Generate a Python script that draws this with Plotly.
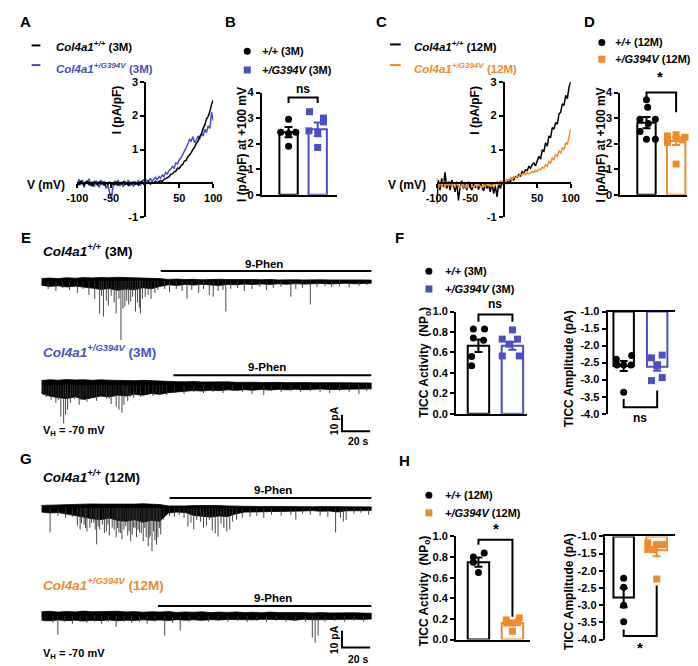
import plotly.graph_objects as go

W, H = 698, 666
FONT = "Liberation Sans"
BLUE = "#4A4FC4"
ORANGE = "#F08A2B"

# ---------------- A / C : I-V ramps ----------------
RAMP_MV = [-100, -97.5, -95, -92.5, -90, -87.5, -85, -82.5, -80, -77.5,
           -75, -72.5, -70, -67.5, -65, -62.5, -60, -57.5, -55, -52.5,
           -50, -47.5, -45, -42.5, -40, -37.5, -35, -32.5, -30, -27.5,
           -25, -22.5, -20, -17.5, -15, -12.5, -10, -7.5, -5, -2.5, 0,
           2.5, 5, 7.5, 10, 12.5, 15, 17.5, 20, 22.5, 25,
           27.5, 30, 32.5, 35, 37.5, 40, 42.5, 45, 47.5, 50,
           52.5, 55, 57.5, 60, 62.5, 65, 67.5, 70, 72.5, 75,
           77.5, 80, 82.5, 85, 87.5, 90, 92.5, 95, 97.5, 100]

IV_WT_3M = [0.05, -0.05, 0.08, 0.0, -0.06, 0.04, 0.07, -0.04, 0.02, -0.08,
            0.05, 0.0, -0.05, 0.06, -0.02, 0.03, -0.07, 0.02, -0.04, 0.05,
            -0.06, 0.01, -0.03, 0.04, -0.05, 0.02, -0.02, 0.05, -0.04, 0.01,
            -0.06, 0.03, -0.02, 0.04, -0.03, 0.02, -0.05, 0.03, 0.06, -0.02, 0.04,
            0.0, 0.05, -0.02, 0.03, 0.01, 0.06, 0.02, 0.05, 0.08, 0.06,
            0.12, 0.14, 0.18, 0.2, 0.27, 0.28, 0.34, 0.36, 0.45, 0.44,
            0.52, 0.56, 0.66, 0.68, 0.78, 0.84, 0.9, 1.0, 1.06, 1.18,
            1.24, 1.38, 1.46, 1.62, 1.72, 1.9, 1.98, 2.12, 2.34, 2.45]
IV_MUT_3M = [-0.1, 0.12, -0.05, 0.1, -0.12, 0.06, -0.02, 0.14, -0.08, 0.05,
             -0.1, 0.08, 0.0, -0.12, 0.1, -0.05, 0.07, -0.15, -0.05, -0.3,
             -0.45, -0.1, 0.08, -0.06, 0.1, -0.08, 0.05, -0.1, 0.08, -0.04,
             0.1, -0.08, 0.04, -0.1, 0.06, -0.04, 0.1, -0.06, 0.05, 0.12, 0.02,
             0.1, 0.06, 0.15, 0.05, 0.12, 0.18, 0.1, 0.2, 0.15, 0.25,
             0.2, 0.32, 0.28, 0.38, 0.42, 0.5, 0.45, 0.6, 0.58, 0.7,
             0.75, 0.85, 0.95, 1.05, 1.15, 1.3, 1.25, 1.38, 1.2, 1.28,
             1.4, 1.3, 1.45, 1.4, 1.6, 1.5, 1.7, 1.62, 2.1, 1.85]
IV_WT_12M = [-0.6, 0.1, -0.2, 0.15, -0.1, 0.33, -0.15, 0.05, -0.2, 0.1,
             -0.05, -0.25, 0.05, -0.5, -0.1, 0.08, -0.15, 0.0, -0.2, 0.05,
             -0.1, -0.2, 0.0, -0.12, -0.05, -0.18, 0.02, -0.1, -0.22, 0.0,
             -0.15, -0.05, -0.25, 0.02, -0.3, -0.08, -0.4, 0.0, -0.15, 0.05, -0.05,
             0.05, 0.0, 0.1, 0.05, 0.15, 0.1, 0.2, 0.18, 0.26, 0.22,
             0.35, 0.3, 0.4, 0.38, 0.5, 0.45, 0.55, 0.6, 0.52, 0.68,
             0.8, 0.72, 0.98, 0.95, 1.2, 1.1, 1.4, 1.35, 1.65, 1.6,
             1.8, 1.75, 2.05, 2.1, 2.35, 2.3, 2.6, 2.5, 2.85, 3.0]
IV_MUT_12M = [0.15, -0.15, 0.05, -0.1, 0.08, -0.12, 0.02, -0.08, 0.06, -0.1,
              -0.02, -0.12, 0.04, -0.08, -0.14, 0.0, -0.1, -0.05, -0.12, -0.02,
              -0.1, -0.06, -0.13, -0.04, -0.1, -0.02, -0.08, -0.12, -0.03, -0.09,
              0.0, -0.07, -0.02, -0.1, 0.02, -0.05, 0.05, -0.02, 0.08, 0.0, 0.1,
              0.04, 0.12, 0.08, 0.15, 0.1, 0.2, 0.16, 0.22, 0.2, 0.28,
              0.24, 0.3, 0.26, 0.32, 0.28, 0.3, 0.36, 0.32, 0.38, 0.35,
              0.42, 0.4, 0.48, 0.45, 0.55, 0.5, 0.65, 0.6, 0.75, 0.7,
              0.85, 0.8, 0.95, 0.9, 1.05, 1.0, 1.2, 1.15, 1.35, 1.6]

# ---------------- B / D : current at +100 mV ----------------
B_WT = [2.95, 2.45, 2.4, 2.45, 1.9]
B_WT_X = [0.0, -0.27, 0.0, 0.25, 0.0]
B_MUT = [3.25, 3.0, 2.85, 2.5, 2.4, 1.85]
B_MUT_X = [-0.28, 0.2, 0.2, -0.3, 0.0, 0.0]
B_MEAN = [2.45, 2.56]
B_SEM = [0.2, 0.27]

D_WT = [3.72, 3.42, 2.95, 2.95, 2.79, 2.47, 2.17, 2.17]
D_WT_X = [0.0, 0.04, -0.22, 0.3, 0.06, -0.22, 0.0, 0.3]
D_MUT = [2.35, 2.3, 2.25, 2.2, 2.15, 2.05, 1.2]
D_MUT_X = [0.0, -0.29, 0.3, 0.0, 0.2, -0.29, 0.0]
D_MEAN = [2.82, 2.1]
D_SEM = [0.22, 0.15]

# ---------------- F / H : TICC activity and amplitude ----------------
F_ACT_WT = [0.83, 0.83, 0.74, 0.72, 0.56, 0.47]
F_ACT_WT_X = [-0.15, 0.18, -0.15, 0.15, -0.2, -0.2]
F_ACT_MUT = [0.82, 0.73, 0.73, 0.68, 0.565, 0.565]
F_ACT_MUT_X = [0.0, -0.3, 0.15, -0.1, -0.3, 0.2]
F_ACT_MEAN = [0.665, 0.665]
F_ACT_SEM = [0.06, 0.04]

F_AMP_WT = [-2.4, -2.29, -2.57, -2.57, -2.57, -3.37]
F_AMP_WT_X = [-0.22, 0.24, 0.0, -0.2, 0.22, 0.0]
F_AMP_MUT = [-2.36, -2.28, -2.57, -3.03, -2.94, -2.6]
F_AMP_MUT_X = [-0.17, 0.15, 0.0, -0.17, 0.15, 0.0]
F_AMP_MEAN = [-2.6, -2.62]
F_AMP_SEM = [0.15, 0.12]

H_ACT_WT = [0.80, 0.84, 0.75, 0.65]
H_ACT_WT_X = [-0.15, 0.17, -0.15, 0.0]
H_ACT_MUT = [0.19, 0.21, 0.16, 0.08, 0.165, 0.16]
H_ACT_MUT_X = [-0.18, 0.2, 0.0, 0.0, 0.15, -0.17]
H_ACT_MEAN = [0.75, 0.16]
H_ACT_SEM = [0.045, 0.02]

H_AMP_WT = [-2.22, -2.48, -3.0, -3.48]
H_AMP_WT_X = [0.0, 0.0, 0.0, 0.0]
H_AMP_MUT = [-1.19, -1.24, -1.24, -1.38, -1.38, -2.24]
H_AMP_MUT_X = [-0.27, 0.0, 0.2, -0.12, -0.27, 0.0]
H_AMP_MEAN = [-2.78, -1.4]
H_AMP_SEM = [0.28, 0.18]

# ---------------- E / G : TICC recordings (s, pA below baseline) ----------------
E1_T = [4.8, 10.3, 15.1, 20.0, 25.5, 29.6, 33.7, 37.8, 41.3, 42.7,
        44.0, 46.1, 47.5, 49.5, 51.6, 53.0, 55.0, 56.4, 57.8, 59.2,
        60.5, 61.9, 63.3, 64.7, 66.7, 68.1, 69.5, 70.2, 71.6, 73.6,
        75.7, 77.7, 80.5, 82.6, 87.4, 90.8, 95.6, 99.8, 103.2, 106.6,
        111.5, 114.9, 119.0, 121.8, 125.2, 128.7, 130.7, 134.2, 139.0, 143.8,
        149.3, 154.8, 159.6, 164.4, 169.9, 176.8, 180.3, 185.1, 190.6, 195.4,
        200.9, 205.7, 211.2, 218.1, 225.0, 230.5]
E1_A = [4.7, 5.9, 4.1, 5.3, 7.1, 4.7, 8.2, 10.6, 19.4, 8.8,
        21.2, 11.8, 14.7, 8.8, 12.9, 19.4, 10.6, 35.3, 16.5, 15.3,
        11.8, 14.1, 12.3, 9.4, 18.2, 12.9, 15.9, 19.4, 10.6, 9.4,
        8.2, 10.6, 7.1, 5.3, 4.7, 6.5, 4.7, 5.9, 10.6, 5.3,
        7.1, 4.7, 8.2, 9.4, 5.9, 5.3, 18.2, 4.7, 4.1, 5.9,
        4.7, 3.5, 5.3, 4.1, 3.5, 9.4, 4.7, 4.1, 14.1, 3.5,
        2.9, 3.5, 2.9, 3.5, 2.9, 2.4]

E2_T = [3.4, 6.9, 10.3, 13.8, 15.8, 17.2, 18.6, 20.6, 23.4, 26.8,
        29.6, 32.3, 35.8, 39.2, 42.7, 46.1, 49.5, 53.0, 55.0, 57.1,
        58.5, 61.2, 65.4, 70.2, 73.6, 79.1, 83.9, 88.8, 94.3, 101.1,
        108.0, 114.9, 121.8, 128.7, 135.5, 142.4, 149.3, 157.6, 163.1, 169.9,
        176.8, 183.7, 190.6, 197.5, 204.3, 211.2, 218.1, 225.0, 230.5,
        1.5, 5.0, 8.5, 12.0, 22.0, 25.0, 28.0, 31.0, 34.0, 37.5,
        41.0, 44.5, 48.0, 51.5, 60.0, 63.0, 67.5, 76.0, 81.5, 86.0]
E2_A = [7.1, 8.8, 10.6, 18.8, 22.9, 17.6, 14.7, 10.6, 8.2, 11.8,
        8.8, 10.0, 7.6, 9.4, 7.1, 8.2, 11.2, 12.9, 14.7, 16.5,
        11.8, 9.4, 7.6, 7.1, 5.9, 6.5, 5.3, 5.9, 4.7, 5.3,
        4.1, 4.7, 4.1, 4.7, 3.5, 4.1, 5.3, 5.9, 3.5, 4.1,
        3.5, 4.1, 3.5, 4.1, 4.7, 3.5, 4.1, 5.3, 3.5,
        5.0, 6.0, 7.0, 9.0, 6.0, 7.0, 9.0, 6.0, 8.0, 6.0,
        7.0, 6.0, 8.0, 7.0, 6.0, 7.0, 5.0, 5.0, 4.5, 4.0]

G1_T = [6.2, 11.7, 17.2, 22.0, 25.5, 27.5, 30.3, 32.3, 34.4, 37.2,
        39.2, 41.3, 43.3, 46.1, 48.2, 50.2, 53.0, 55.0, 57.1, 58.5,
        61.2, 63.3, 65.4, 67.4, 69.5, 72.2, 74.3, 75.7, 77.1, 78.4,
        80.5, 82.6, 84.6, 86.7, 90.8, 94.3, 97.7, 101.1, 103.9, 106.0,
        108.0, 110.1, 112.8, 114.9, 117.0, 119.0, 121.1, 123.2, 125.2, 127.3,
        129.3, 131.4, 133.5, 135.5, 138.3, 142.4, 147.9, 152.7, 157.6, 163.1,
        169.9, 176.8, 180.3, 185.1, 190.6, 197.5, 203.0, 208.5, 211.9, 214.0,
        216.0, 221.5, 226.4, 231.9,
        28.5, 31.3, 35.5, 38.2, 40.3, 44.7, 47.2, 51.6, 54.0, 56.0,
        59.8, 62.2, 64.4, 66.4, 68.5, 70.8, 73.3, 76.4, 79.5, 81.6, 83.6]
G1_A = [14.7, 4.7, 5.9, 5.3, 10.6, 12.9, 10.0, 14.1, 11.8, 8.8,
        21.8, 12.9, 10.0, 14.1, 16.5, 11.8, 17.6, 14.7, 18.8, 12.9,
        16.5, 20.0, 11.8, 17.6, 14.7, 20.0, 17.6, 22.9, 16.5, 25.9,
        19.4, 17.6, 15.9, 7.1, 4.7, 5.3, 4.1, 5.9, 11.2, 8.8,
        12.9, 7.1, 8.2, 11.8, 10.6, 7.1, 13.5, 15.3, 17.1, 9.4,
        11.8, 14.1, 12.9, 8.2, 7.1, 5.9, 5.3, 4.7, 5.9, 4.1,
        4.7, 4.1, 7.1, 3.5, 4.1, 4.7, 5.3, 14.7, 5.9, 8.2,
        7.1, 3.5, 2.9, 4.1,
        9.0, 12.0, 9.0, 13.0, 11.0, 15.0, 10.0, 13.0, 12.0, 15.0,
        11.0, 14.0, 16.0, 12.0, 13.0, 15.0, 12.0, 18.0, 14.0, 22.0, 12.0]

G2_T = [3.4, 8.3, 11.7, 16.5, 22.0, 27.5, 32.3, 37.8, 42.7, 47.5,
        53.0, 58.5, 64.0, 69.5, 75.0, 80.5, 87.4, 92.9, 98.4, 104.6,
        111.5, 118.3, 125.2, 132.1, 139.0, 145.9, 152.7, 159.6, 166.5, 173.4,
        180.3, 187.1, 192.0, 194.0, 196.1, 200.9, 207.8, 214.7, 221.5, 228.4]
G2_A = [3.5, 4.1, 11.2, 3.5, 4.7, 3.5, 4.1, 3.5, 4.7, 3.5,
        6.5, 3.5, 4.1, 3.5, 4.7, 3.5, 11.8, 4.1, 8.8, 3.5,
        2.9, 3.5, 2.9, 3.5, 2.9, 3.5, 2.9, 3.5, 2.9, 3.5,
        2.9, 3.5, 12.9, 15.9, 11.8, 3.5, 2.9, 3.5, 2.9, 3.5]

# baseline noise envelope of each recording, sampled every 6 s (pA)
BAND_T = [0, 6, 12, 18, 24, 30, 36, 42, 48, 54, 60, 66, 72, 78, 84, 90, 96, 102, 108, 114,
          120, 126, 132, 138, 144, 150, 156, 162, 168, 174, 180, 186, 192, 198, 204, 210,
          216, 222, 228, 234]
E1_UP = [1.6, 1.8, 1.5, 2.0, 1.7, 2.1, 1.9, 2.2, 2.0, 2.3, 2.1, 2.0, 1.8, 1.9, 1.5, 1.0, 1.2, 0.9, 1.1, 0.8,
         1.0, 1.1, 0.9, 1.0, 0.8, 0.9, 0.8, 1.0, 0.7, 0.9, 0.8, 0.7, 0.9, 0.8, 0.7, 0.8, 0.6, 0.8, 0.7, 0.6]
E1_LO = [-2.5, -3.2, -2.8, -3.5, -3.0, -3.8, -4.2, -5.0, -4.5, -5.5, -4.8, -5.2, -4.0, -4.6, -3.2, -2.2,
         -2.6, -2.0, -2.4, -1.9, -2.3, -2.6, -2.0, -2.2, -1.8, -2.1, -1.7, -2.0, -1.6, -1.9, -1.5, -1.8,
         -1.6, -1.4, -1.7, -1.5, -1.3, -1.6, -1.4, -1.3]
E2_UP = [2.8, 3.2, 3.0, 3.4, 3.1, 3.3, 2.9, 3.2, 3.0, 2.8, 3.0, 2.7, 2.9, 2.6, 2.5, 2.3, 2.1, 2.0, 2.2, 1.9,
         2.0, 1.8, 2.0, 1.7, 1.9, 1.8, 1.6, 1.8, 1.7, 1.5, 1.7, 1.6, 1.5, 1.6, 1.4, 1.5, 1.4, 1.3, 1.4, 1.3]
E2_LO = [-5.0, -6.5, -7.5, -8.0, -7.0, -8.5, -7.5, -6.5, -7.0, -6.0, -6.5, -5.5, -6.0, -5.0, -5.5, -4.5,
         -3.8, -3.5, -3.2, -3.5, -3.0, -3.3, -2.8, -3.1, -2.7, -3.0, -2.6, -2.9, -2.5, -2.8, -2.4, -2.7,
         -2.5, -2.3, -2.6, -2.4, -2.2, -2.5, -2.3, -2.2]
G1_UP = [1.5, 1.7, 1.6, 1.9, 2.0, 2.2, 2.4, 2.3, 2.2, 2.5, 2.4, 2.3, 2.5, 2.2, 2.0, 1.2, 1.0, 1.2, 1.4, 1.5,
         1.3, 1.4, 1.2, 1.0, 0.9, 1.0, 0.8, 0.9, 0.8, 0.7, 0.9, 0.8, 0.7, 0.8, 0.7, 0.9, 0.7, 0.6, 0.7, 0.6]
G1_LO = [-2.5, -3.0, -2.8, -3.5, -4.5, -5.5, -6.5, -7.0, -6.0, -7.5, -8.0, -7.0, -8.5, -7.5, -8.0, -3.0,
         -2.5, -2.8, -4.5, -5.0, -5.5, -4.8, -5.2, -3.5, -2.5, -2.2, -2.0, -1.8, -2.0, -1.7, -1.9, -1.8,
         -1.6, -2.0, -1.8, -2.4, -1.7, -1.6, -1.5, -1.6]
G2_UP = [2.5, 2.8, 2.3, 2.7, 2.4, 2.9, 2.5, 2.6, 2.3, 2.8, 2.4, 2.6, 2.2, 2.5, 2.3, 2.6, 2.1, 2.4, 2.2, 2.5,
         2.0, 2.3, 2.1, 2.4, 2.0, 2.2, 1.9, 2.3, 2.0, 2.1, 1.9, 2.0, 1.8, 2.1, 1.8, 1.9, 1.7, 1.9, 1.7, 1.6]
G2_LO = [-2.6, -2.9, -2.4, -2.8, -2.5, -3.0, -2.6, -2.8, -2.4, -2.9, -2.5, -2.7, -2.3, -2.6, -2.4, -2.7,
         -2.2, -2.5, -2.3, -2.6, -2.2, -2.4, -2.1, -2.5, -2.2, -2.3, -2.0, -2.4, -2.1, -2.2, -2.5, -2.0,
         -2.3, -2.1, -1.9, -2.2, -2.0, -1.9, -2.1, -1.8]

PHEN_START = [84.6, 93.6, 90.8, 82.6]   # 9-Phen application, s
REC_END = 234
SCALE_PA = 10
SCALE_S = 20

for a, b in [(RAMP_MV, IV_WT_3M), (RAMP_MV, IV_MUT_3M), (RAMP_MV, IV_WT_12M),
             (RAMP_MV, IV_MUT_12M), (E1_T, E1_A), (E2_T, E2_A), (G1_T, G1_A), (G2_T, G2_A),
             (BAND_T, E1_UP), (BAND_T, E1_LO), (BAND_T, E2_UP), (BAND_T, E2_LO),
             (BAND_T, G1_UP), (BAND_T, G1_LO), (BAND_T, G2_UP), (BAND_T, G2_LO)]:
    assert len(a) == len(b)


def fx(x):
    return x / W


def fy(y):
    return 1 - y / H


TICKFONT = dict(family=FONT, size=11, color="black", weight="bold")
AX = dict(showline=True, linecolor="black", linewidth=2, ticks="outside", ticklen=4,
          tickwidth=2, tickcolor="black", showgrid=False, zeroline=False, tickfont=TICKFONT)

fig = go.Figure()
layout = {}
annotations = []
shapes = []


def txt(x, y, text, size=11.5, color="black", anchor="center", angle=0):
    annotations.append(dict(x=fx(x), y=fy(y), xref="paper", yref="paper", text=text,
                            showarrow=False, xanchor=anchor, yanchor="middle", textangle=angle,
                            font=dict(family=FONT, size=size, color=color, weight="bold")))


def key(kind, n):
    return kind + "axis" + ("" if n == 1 else str(n))


def ref(kind, n):
    return kind + ("" if n == 1 else str(n))


# ---------- I-V panels ----------
def iv_panel(n, xpx, ypx, yzero_px):
    layout[key("x", n)] = dict(AX, domain=[fx(xpx[0]), fx(xpx[1])], range=[-100, 100],
                               anchor="free", position=fy(yzero_px),
                               tickvals=[-100, -50, 50, 100], ticktext=["-100", "-50", "50", "100"])
    layout[key("y", n)] = dict(AX, domain=[fy(ypx[1]), fy(ypx[0])], range=[-1, 3],
                               anchor="free", position=fx((xpx[0] + xpx[1]) / 2),
                               tickvals=[-1, 1, 2, 3], ticktext=["-1", "1", "2", "3"])


iv_panel(1, (60, 200), (69, 207), 172.5)
iv_panel(3, (430, 568), (69, 207), 172.5)

for xa, ya, y, c in [("x", "y", IV_MUT_3M, BLUE), ("x", "y", IV_WT_3M, "black"),
                     ("x3", "y3", IV_WT_12M, "black"), ("x3", "y3", IV_MUT_12M, ORANGE)]:
    fig.add_trace(go.Scatter(x=RAMP_MV, y=y, mode="lines", line=dict(color=c, width=1.5),
                             xaxis=xa, yaxis=ya))

# ---------- bar panels ----------
PANELS = {
    2: dict(xpx=(250, 327), ypx=(184, 80), xr=(-0.917, 1.65), yr=(0, 4), w=0.63),
    4: dict(xpx=(619, 688), ypx=(184, 80), xr=(-0.885, 1.377), yr=(0, 4), w=0.62),
    9: dict(xpx=(450, 523), ypx=(407, 303), xr=(-0.657, 1.429), yr=(0, 1), w=0.63),
    10: dict(xpx=(606, 675), ypx=(407, 303), xr=(-0.478, 1.522), yr=(-4, -1), w=0.61),
    11: dict(xpx=(450, 526), ypx=(637, 532), xr=(-0.657, 1.514), yr=(0, 1), w=0.63),
    12: dict(xpx=(603, 675), ypx=(637, 532), xr=(-0.574, 1.544), yr=(-4, -1), w=0.62),
}


def to_paper(n, x, y):
    p = PANELS[n]
    xp = p["xpx"][0] + (x - p["xr"][0]) / (p["xr"][1] - p["xr"][0]) * (p["xpx"][1] - p["xpx"][0])
    yp = p["ypx"][0] + (y - p["yr"][0]) / (p["yr"][1] - p["yr"][0]) * (p["ypx"][1] - p["ypx"][0])
    return fx(xp), fy(yp)


def bar_panel(n, groups, means, sems, colors, symbols, tickvals, ticktext, hanging=False):
    p = PANELS[n]
    layout[key("x", n)] = dict(domain=[fx(p["xpx"][0]), fx(p["xpx"][1])], range=list(p["xr"]),
                               anchor=ref("y", n), showline=True, linecolor="black", linewidth=2,
                               ticks="", showticklabels=False, showgrid=False, zeroline=False,
                               side="top" if hanging else "bottom")
    layout[key("y", n)] = dict(AX, domain=[fy(p["ypx"][0]), fy(p["ypx"][1])], range=list(p["yr"]),
                               anchor=ref("x", n), tickvals=tickvals, ticktext=ticktext)
    xa, ya = ref("x", n), ref("y", n)
    for i, ((vals, offs), m, s, c, sym) in enumerate(zip(groups, means, sems, colors, symbols)):
        base = p["yr"][1] if hanging else 0
        fig.add_trace(go.Bar(x=[i], y=[m - base], base=[base], width=p["w"],
                             marker=dict(color="white", line=dict(color=c, width=2)),
                             xaxis=xa, yaxis=ya))
        fig.add_trace(go.Scatter(x=[i + o for o in offs], y=vals, mode="markers",
                                 marker=dict(symbol=sym, size=7, color=c),
                                 cliponaxis=False, xaxis=xa, yaxis=ya))
        fig.add_trace(go.Scatter(x=[i], y=[m], mode="markers", marker=dict(size=1, color=c),
                                 error_y=dict(type="data", array=[s], color=c, thickness=2, width=4),
                                 xaxis=xa, yaxis=ya))


def bracket(n, y_left, y_right, y_bar):
    x0, yl = to_paper(n, 0, y_left)
    x1, yr = to_paper(n, 1, y_right)
    _, yb = to_paper(n, 0, y_bar)
    shapes.append(dict(type="path", xref="paper", yref="paper",
                       path=f"M {x0},{yl} L {x0},{yb} L {x1},{yb} L {x1},{yr}",
                       line=dict(color="black", width=2)))


T04 = [0, 1, 2, 3, 4]
T01 = [0, 0.2, 0.4, 0.6, 0.8, 1.0]
T01_TXT = ["0.0", "0.2", "0.4", "0.6", "0.8", "1.0"]
TAMP = [-1, -1.5, -2, -2.5, -3, -3.5, -4]
TAMP_TXT = ["-1.0", "-1.5", "-2.0", "-2.5", "-3.0", "-3.5", "-4.0"]

bar_panel(2, [(B_WT, B_WT_X), (B_MUT, B_MUT_X)], B_MEAN, B_SEM, ["black", BLUE],
          ["circle", "square"], T04, [str(v) for v in T04])
bar_panel(4, [(D_WT, D_WT_X), (D_MUT, D_MUT_X)], D_MEAN, D_SEM, ["black", ORANGE],
          ["circle", "square"], T04, [str(v) for v in T04])
bar_panel(9, [(F_ACT_WT, F_ACT_WT_X), (F_ACT_MUT, F_ACT_MUT_X)], F_ACT_MEAN, F_ACT_SEM,
          ["black", BLUE], ["circle", "square"], T01, T01_TXT)
bar_panel(10, [(F_AMP_WT, F_AMP_WT_X), (F_AMP_MUT, F_AMP_MUT_X)], F_AMP_MEAN, F_AMP_SEM,
          ["black", BLUE], ["circle", "square"], TAMP, TAMP_TXT, hanging=True)
bar_panel(11, [(H_ACT_WT, H_ACT_WT_X), (H_ACT_MUT, H_ACT_MUT_X)], H_ACT_MEAN, H_ACT_SEM,
          ["black", ORANGE], ["circle", "square"], T01, T01_TXT)
bar_panel(12, [(H_AMP_WT, H_AMP_WT_X), (H_AMP_MUT, H_AMP_MUT_X)], H_AMP_MEAN, H_AMP_SEM,
          ["black", ORANGE], ["circle", "square"], TAMP, TAMP_TXT, hanging=True)

bracket(2, 3.59, 3.59, 3.81)
bracket(4, 3.66, 3.23, 4.0)
bracket(9, 0.9, 0.9, 0.97)
bracket(10, -3.57, -3.32, -3.81)
bracket(11, 0.92, 0.22, 0.968)
bracket(12, -3.71, -2.43, -3.9)

# ---------- current recordings ----------
K = SCALE_PA / 17.0          # pA per pixel
TRACES = [
    # axis, baseline px, top px, bottom px, spikes, noise envelope
    (5, 272, 256, 340, E1_T, E1_A, E1_UP, E1_LO),
    (6, 378, 355, 432, E2_T, E2_A, E2_UP, E2_LO),
    (7, 503, 478, 560, G1_T, G1_A, G1_UP, G1_LO),
    (8, 613, 590, 652, G2_T, G2_A, G2_UP, G2_LO),
]
PHEN_Y = 6.0

for (n, base, top, bot, st, sa, bu, bl), phen in zip(TRACES, PHEN_START):
    layout[key("x", n)] = dict(domain=[fx(23), fx(363)], range=[0, REC_END], visible=False,
                               anchor=ref("y", n))
    layout[key("y", n)] = dict(domain=[fy(bot), fy(top)], range=[-(bot - base) * K, (base - top) * K],
                               visible=False, anchor=ref("x", n))
    xa, ya = ref("x", n), ref("y", n)
    fig.add_trace(go.Scatter(x=BAND_T + BAND_T[::-1], y=bu + bl[::-1], fill="toself",
                             fillcolor="black", mode="lines", line=dict(color="black", width=0.8),
                             xaxis=xa, yaxis=ya))
    xs, ys = [], []
    for t, a in zip(st, sa):
        xs += [t, t, None]
        ys += [0, -a, None]
    fig.add_trace(go.Scatter(x=xs, y=ys, mode="lines", line=dict(color="#333333", width=0.9),
                             xaxis=xa, yaxis=ya))
    fig.add_trace(go.Scatter(x=[phen, REC_END], y=[PHEN_Y, PHEN_Y], mode="lines",
                             line=dict(color="black", width=2), xaxis=xa, yaxis=ya))

# scale bars (E bottom and G bottom recordings)
for n, y0 in [(6, -(425 - 378) * K), (8, -(645 - 613) * K)]:
    t0 = REC_END - SCALE_S - 1
    fig.add_trace(go.Scatter(x=[t0, t0, t0 + SCALE_S], y=[y0 + SCALE_PA, y0, y0], mode="lines",
                             line=dict(color="black", width=2), xaxis=ref("x", n), yaxis=ref("y", n)))

# ---------- text ----------
for lab, x, y in [("A", 7, 8), ("B", 218, 8), ("C", 373, 8), ("D", 587, 8),
                  ("E", 7, 228), ("F", 392, 228), ("G", 7, 453), ("H", 397, 455)]:
    txt(x, y, lab, size=15)

WT = "<i>Col4a1</i><sup><i>+/+</i></sup>"
MUT = "<i>Col4a1</i><sup><i>+/G394V</i></sup>"

# A / C legends
for (x0, x1, xt), items in [((13, 22, 36), [(32, 33, "black", WT + " (3M)"), (52, 55, BLUE, MUT + " (3M)")]),
                            ((382, 393, 405), [(31, 33, "black", WT + " (12M)"), (52, 55, ORANGE, MUT + " (12M)")])]:
    for yl, yt, c, s in items:
        shapes.append(dict(type="line", xref="paper", yref="paper", x0=fx(x0), x1=fx(x1),
                           y0=fy(yl), y1=fy(yl), line=dict(color=c, width=2)))
        txt(xt, yt, s, size=11.5, color=c, anchor="left")

txt(28, 174, "V (mV)", size=12)
txt(399, 174, "V (mV)", size=12)
txt(101, 98, "I (pA/pF)", size=12, angle=-90)
txt(470, 98, "I (pA/pF)", size=12, angle=-90)
txt(229, 133, "I (pA/pF) at +100 mV", size=12, angle=-90)
txt(599, 133, "I (pA/pF) at +100 mV", size=12, angle=-90)


def marker_legend(xm, xt, y1, y2, c2, age):
    shapes.append(dict(type="circle", xref="paper", yref="paper", xsizemode="pixel", ysizemode="pixel",
                       xanchor=fx(xm), yanchor=fy(y1), x0=-3.5, x1=3.5, y0=-3.5, y1=3.5,
                       fillcolor="black", line=dict(width=0)))
    shapes.append(dict(type="rect", xref="paper", yref="paper", xsizemode="pixel", ysizemode="pixel",
                       xanchor=fx(xm), yanchor=fy(y2), x0=-3.5, x1=3.5, y0=-3.5, y1=3.5,
                       fillcolor=c2, line=dict(width=0)))
    txt(xt, y1, f"<i>+/+</i> ({age})", size=11, anchor="left")
    txt(xt, y2, f"<i>+/G394V</i> ({age})", size=11, anchor="left")


marker_legend(235, 248, 38, 57, BLUE, "3M")
marker_legend(600, 612, 29, 46, ORANGE, "12M")
marker_legend(422, 437, 262, 280, BLUE, "3M")
marker_legend(422, 437, 490, 508, ORANGE, "12M")

txt(292, 76, "ns", size=12)
txt(660, 64, "*", size=15)
txt(490, 295, "ns", size=12)
txt(639, 411, "ns", size=12)
txt(491, 524, "*", size=15)
txt(639, 645, "*", size=15)

txt(418, 355, "TICC Activity  (NP<sub>o</sub>)", size=12, angle=-90)
txt(418, 588, "TICC Activity  (NP<sub>o</sub>)", size=12, angle=-90)
txt(567, 361, "TICC Amplitude (pA)", size=12, angle=-90)
txt(567, 588, "TICC Amplitude (pA)", size=12, angle=-90)

txt(23, 240, WT + " (3M)", size=13.5, anchor="left")
txt(23, 343, MUT + " (3M)", size=13.5, color=BLUE, anchor="left")
txt(23, 470, WT + " (12M)", size=13.5, anchor="left")
txt(23, 580, MUT + " (12M)", size=13.5, color=ORANGE, anchor="left")
for x, y in [(252, 255), (255, 359), (261, 485), (261, 595)]:
    txt(x, y, "9-Phen", size=11.5)
txt(23, 425, "V<sub>H</sub> = -70 mV", size=11, anchor="left")
txt(23, 652, "V<sub>H</sub> = -70 mV", size=11, anchor="left")
txt(324, 414, "10 pA", size=10.5, angle=-90)
txt(324, 637, "10 pA", size=10.5, angle=-90)
txt(350, 435, "20 s", size=10.5)
txt(350, 657, "20 s", size=10.5)

fig.update_layout(width=W, height=H, margin=dict(l=0, r=0, t=0, b=0), showlegend=False,
                  plot_bgcolor="white", paper_bgcolor="white", annotations=annotations,
                  shapes=shapes, font=dict(family=FONT), **layout)
fig.write_html("out.html")
